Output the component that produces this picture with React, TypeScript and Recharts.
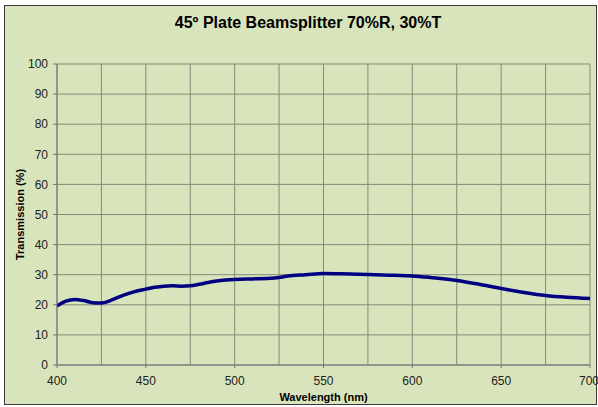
import { LineChart, Line, XAxis, YAxis, CartesianGrid } from 'recharts';

const wavelengths = [
  400, 405, 410, 415, 420, 425, 430, 435, 440, 445, 450, 455, 460, 465, 470, 475, 480, 485, 490, 495,
  500, 510, 520, 525, 530, 540, 550, 560, 575, 590, 600, 610, 625, 637, 650, 662, 675, 687, 700,
];
const transmission = [
  19.6, 21.2, 21.8, 21.4, 20.7, 20.6, 21.4, 22.6, 23.7, 24.6, 25.2, 25.8, 26.2, 26.3, 26.2, 26.3, 26.8, 27.4, 27.9, 28.2,
  28.4, 28.6, 28.8, 29.1, 29.6, 30.0, 30.4, 30.3, 30.1, 29.8, 29.6, 29.1, 28.1, 26.9, 25.4, 24.2, 23.1, 22.5, 22.1,
];
const xTicks = [400, 450, 500, 550, 600, 650, 700];
const xGridTicks = [400, 425, 450, 475, 500, 525, 550, 575, 600, 625, 650, 675, 700];
const yTicks = [0, 10, 20, 30, 40, 50, 60, 70, 80, 90, 100];

const data = wavelengths.map((w, i) => ({ wl: w, t: transmission[i] }));

const font = 'Arial, "Liberation Sans", Helvetica, sans-serif';

export default function App() {
  return (
    <div style={{ position: 'fixed', left: 0, top: 0, width: 598, height: 407, background: '#fff', fontFamily: font }}>
      <div
        style={{
          position: 'absolute',
          left: 4,
          top: 5,
          width: 591,
          height: 398,
          background: '#d8e4bc',
          border: '1px solid #3a3a3a',
        }}
      />
      <div
        style={{
          position: 'absolute',
          left: 0,
          top: 14,
          width: 616,
          textAlign: 'center',
          fontSize: 16,
          fontWeight: 'bold',
          color: '#000',
        }}
      >
        45º Plate Beamsplitter 70%R, 30%T
      </div>
      <div style={{ position: 'absolute', left: 0, top: 0 }}>
        <LineChart width={598} height={407} data={data} margin={{ top: 64, right: 8, left: 0, bottom: 12 }}>
          <XAxis xAxisId="grid" dataKey="wl" type="number" domain={[400, 700]} ticks={xGridTicks} hide />
          <CartesianGrid xAxisId="grid" stroke="#858a7a" strokeWidth={1} />
          <XAxis
            dataKey="wl"
            type="number"
            domain={[400, 700]}
            ticks={xTicks}
            height={30}
            stroke="#777"
            tickSize={3}
            tickMargin={8}
            tick={{ fill: '#222', fontSize: 12, fontFamily: font }}
            label={{
              value: 'Wavelength (nm)',
              position: 'insideBottom',
              offset: -6,
              style: { fontSize: 11, fontWeight: 'bold', fill: '#000', fontFamily: font },
            }}
          />
          <YAxis
            width={57}
            domain={[0, 100]}
            ticks={yTicks}
            stroke="#777"
            tickSize={4}
            tickMargin={5}
            tick={{ fill: '#222', fontSize: 12, fontFamily: font }}
            label={{
              value: 'Transmission (%)',
              angle: -90,
              position: 'insideLeft',
              offset: 20,
              style: { fontSize: 11, fontWeight: 'bold', fill: '#000', fontFamily: font, textAnchor: 'middle' },
            }}
          />
          <Line
            type="monotone"
            dataKey="t"
            stroke="#000080"
            strokeWidth={3.5}
            dot={false}
            isAnimationActive={false}
          />
        </LineChart>
      </div>
    </div>
  );
}
